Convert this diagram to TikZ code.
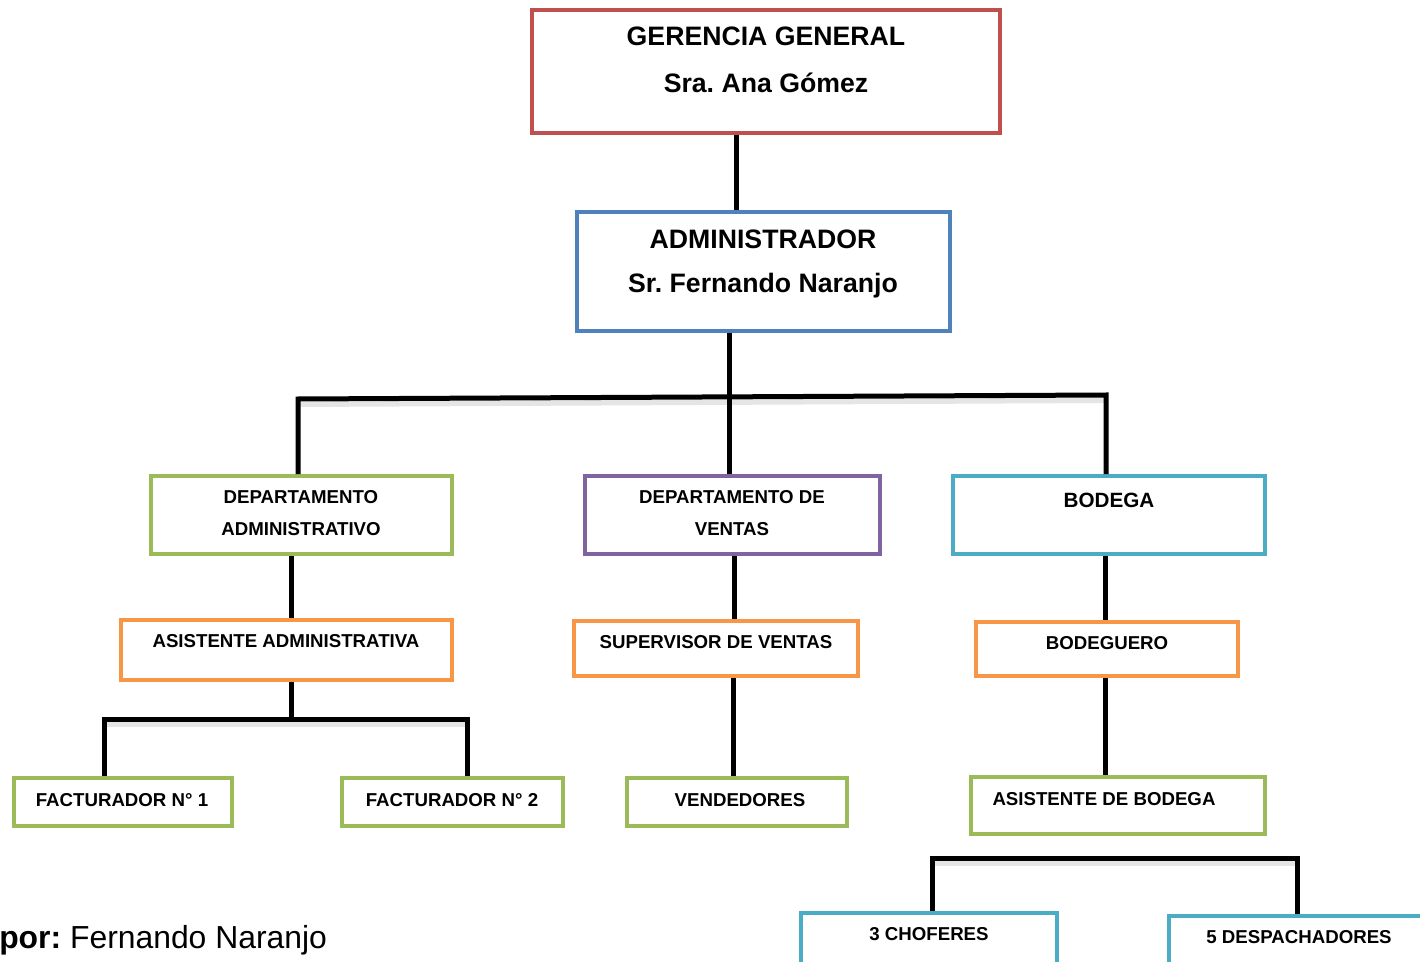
\documentclass[tikz,border=0pt]{standalone}
\usepackage{fontspec}
\setmainfont{Liberation Sans}
\usetikzlibrary{fit}
\frenchspacing
\definecolor{cred}{HTML}{C0504D}
\definecolor{cblue}{HTML}{4F81BD}
\definecolor{cgreen}{HTML}{9BBB59}
\definecolor{cpurple}{HTML}{8064A2}
\definecolor{caqua}{HTML}{4BACC6}
\definecolor{corange}{HTML}{F79646}
\tikzset{
  box/.style={draw=#1, line width=3pt, inner sep=0pt, rectangle},
  big/.style={font=\fontsize{20}{24}\selectfont\bfseries, inner sep=0pt},
  small/.style={font=\fontsize{14}{17}\selectfont\bfseries, inner sep=0pt},
  conn/.style={line width=3.75pt, black},
  shade/.style={line width=4pt, black!20, opacity=0.5},
}
\begin{document}
\begin{tikzpicture}[x=0.75pt, y=-0.75pt]
\useasboundingbox (0,0) rectangle (1420,962);
\clip (0,0) rectangle (1420,962);
% boxes (stroke centre lines)
\node[box=cred, fit={(532,10) (1000,133)}] (g) {};
\node[box=cblue, fit={(577,212) (950,331)}] (a) {};
\node[box=cgreen, fit={(151,476) (452,554)}] (da) {};
\node[box=cpurple, fit={(585,476) (880,554)}] (dv) {};
\node[box=caqua, fit={(953,476) (1265,554)}] (b) {};
\node[box=corange, fit={(121,620) (452,680)}] (aa) {};
\node[box=corange, fit={(574,621) (858,676)}] (sv) {};
\node[box=corange, fit={(976,622) (1238,676)}] (bq) {};
\node[box=cgreen, fit={(14,778) (232,826)}] (f1) {};
\node[box=cgreen, fit={(342,778) (563,826)}] (f2) {};
\node[box=cgreen, fit={(627,778) (847,826)}] (v) {};
\node[box=cgreen, fit={(971,777) (1265,834)}] (ab) {};
\node[box=caqua, fit={(801,913) (1057,975)}] (ch) {};
\node[box=caqua, fit={(1169,916) (1430,975)}] (dp) {};
% texts
\node[big] (gt1) at (766,36) {GERENCIA GENERAL};
\node[big] (gt2) at (766,83) {Sra. Ana Gómez};
\node[big] (at1) at (763,239) {ADMINISTRADOR};
\node[big] (at2) at (763,286) {Sr. Fernando Naranjo};
\node[small] (dat1) at (301,497) {DEPARTAMENTO};
\node[small] (dat2) at (301,529) {ADMINISTRATIVO};
\node[small] (dvt1) at (732,497) {DEPARTAMENTO DE};
\node[small] (dvt2) at (732,529) {VENTAS};
\node[small, font=\fontsize{15.5}{18}\selectfont\bfseries] (bt) at (1109,500) {BODEGA};
\node[small] (aat) at (286,641) {ASISTENTE ADMINISTRATIVA};
\node[small] (svt) at (716,642) {SUPERVISOR DE VENTAS};
\node[small] (bqt) at (1107,643) {BODEGUERO};
\node[small] (f1t) at (122,800) {FACTURADOR N° 1};
\node[small] (f2t) at (452,800) {FACTURADOR N° 2};
\node[small] (vt) at (740,800) {VENDEDORES};
\node[small] (abt) at (1104,799) {ASISTENTE DE BODEGA};
\node[small] (cht) at (929,934) {3 CHOFERES};
\node[small] (dpt) at (1299,937) {5 DESPACHADORES};
\node[anchor=west, inner sep=0pt, font=\fontsize{23.9}{28}\selectfont] (by) at (-1,940) {\textbf{por:} Fernando Naranjo};
% junction coordinates
\coordinate (c1) at (736,0);
\coordinate (c2) at (729,397);
\coordinate (c3) at (298,399);
\coordinate (c4) at (1106,395);
\coordinate (c5) at (291,719);
\coordinate (c6) at (104,719);
\coordinate (c7) at (467,719);
\coordinate (c8) at (734,0);
\coordinate (c9) at (733,0);
\coordinate (c10) at (1105,0);
\coordinate (c11) at (1105,858);
\coordinate (c12) at (932,858);
\coordinate (c13) at (1297,858);
% shadows
\draw[shade] ([yshift=-4pt]c3) -- ([yshift=-4pt]c4);
\draw[shade] ([yshift=-4pt]c6) -- ([yshift=-4pt]c7);
\draw[shade] ([yshift=-4pt]c12) -- ([yshift=-4pt]c13);
% connectors
\draw[conn] (g.south -| c1) -- (a.north -| c1);
\draw[conn] (a.south -| c2) -- (dv.north -| c2);
\draw[conn] (da.north -| c3) -- (c3) -- (c4) -- (b.north -| c4);
\draw[conn] (da.south -| c5) -- (aa.north -| c5);
\draw[conn] (aa.south -| c5) -- (c5);
\draw[conn] (f1.north -| c6) -- (c6) -- (c7) -- (f2.north -| c7);
\draw[conn] (dv.south -| c8) -- (sv.north -| c8);
\draw[conn] (sv.south -| c9) -- (v.north -| c9);
\draw[conn] (b.south -| c10) -- (bq.north -| c10);
\draw[conn] (bq.south -| c10) -- (ab.north -| c10);
\draw[conn] (ch.north -| c12) -- (c12) -- (c13) -- (dp.north -| c13);
\end{tikzpicture}
\end{document}
